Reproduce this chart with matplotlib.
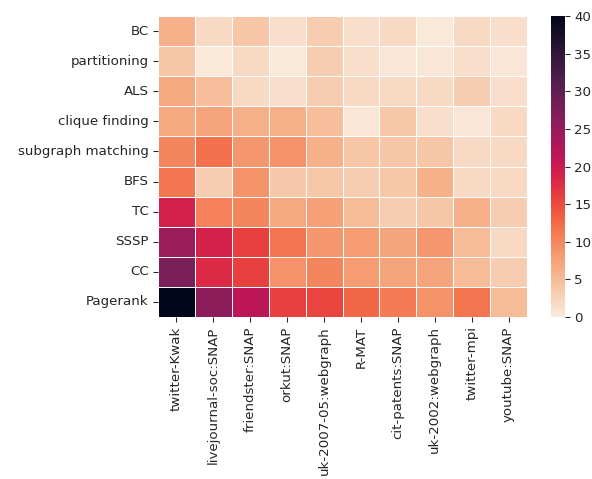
import numpy as np
import pandas as pd
import matplotlib
matplotlib.use("Agg")
import matplotlib.pyplot as plt
import seaborn as sns

algorithms = ["BC", "partitioning", "ALS", "clique finding", "subgraph matching",
              "BFS", "TC", "SSSP", "CC", "Pagerank"]
graphs = ["twitter-Kwak", "livejournal-soc:SNAP", "friendster:SNAP", "orkut:SNAP",
          "uk-2007-05:webgraph", "R-MAT", "cit-patents:SNAP", "uk-2002:webgraph",
          "twitter-mpi", "youtube:SNAP"]

bc = [6, 2, 4, 1.3, 3.2, 1.3, 2, 0.4, 2, 1.3]
partitioning = [4, 0.4, 2, 0.4, 3.2, 1.3, 0.5, 0.5, 1.3, 0.5]
als = [7, 4.7, 2, 1.3, 3.2, 2, 2, 2, 3.2, 1.3]
clique = [7, 7.3, 6.2, 6.2, 4.7, 0.5, 3.8, 1.3, 0.5, 2]
subgraph = [10, 12, 8.5, 9, 6, 4, 4, 4, 2, 2]
bfs = [11.5, 3.2, 8.8, 3.6, 3.8, 3.2, 3.8, 6, 2, 2]
tc = [19, 10.5, 10, 7, 7.8, 5, 3.2, 4, 6, 3.2]
sssp = [24.5, 19, 15.8, 11.5, 8.5, 8, 7.3, 8.5, 5, 2]
cc = [27.5, 18, 15.8, 9, 10, 8, 7.3, 7.3, 5, 3.2]
pagerank = [40, 26, 21.5, 15.8, 15.5, 12.8, 11, 9, 11.5, 5]

table = pd.DataFrame([bc, partitioning, als, clique, subgraph, bfs, tc, sssp, cc, pagerank],
                     index=algorithms, columns=graphs)

W, H = 592, 479
DPI = 96
fig = plt.figure(figsize=(W / DPI, H / DPI), dpi=DPI)
ax = fig.add_axes([158 / W, 1 - 317 / H, (527 - 158) / W, (317 - 16) / H])
cax = fig.add_axes([551 / W, 1 - 317 / H, 14 / W, (317 - 16) / H])

sns.heatmap(table, ax=ax, cbar_ax=cax, cmap="rocket_r", vmin=0, vmax=40,
            linewidths=0.5, linecolor="white")
ax.tick_params(labelsize=10, colors="#262626", labelcolor="#262626")
cax.tick_params(labelsize=10, colors="#262626", labelcolor="#262626")
ax.set_xticklabels(graphs, rotation=90)
ax.set_yticklabels(algorithms, rotation=0)
cax.yaxis.set_ticks([0, 5, 10, 15, 20, 25, 30, 35, 40])
for s in cax.spines.values():
    s.set_visible(False)

fig.savefig("out.png", dpi=DPI)
